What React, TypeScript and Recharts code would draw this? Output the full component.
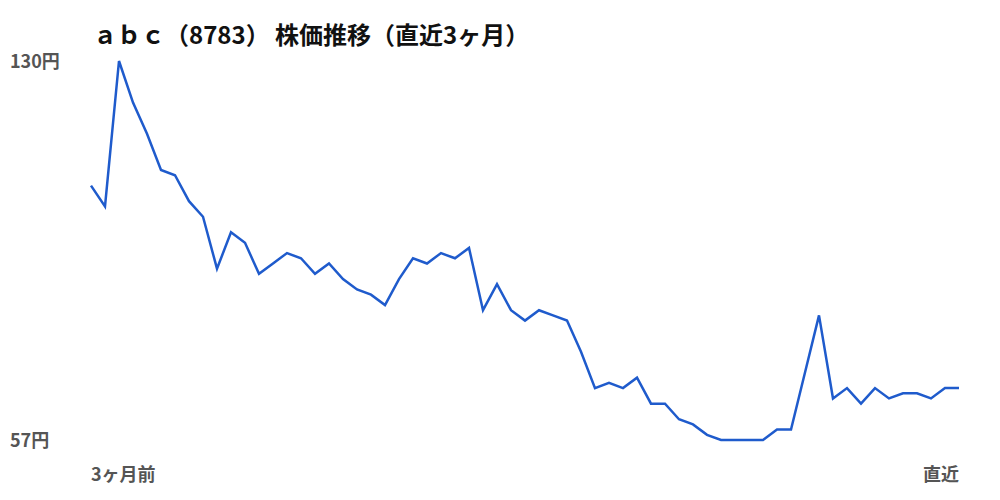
import * as React from "react";
import { Line, LineChart, XAxis, YAxis } from "recharts";

const TITLE = "ａｂｃ（8783） 株価推移（直近3ヶ月）";

// 終値（円）、3ヶ月前 → 直近
const prices = [
	106, 102, 130, 122, 116, 109, 108, 103, 100, 90, 97, 95, 89, 91, 93, 92,
	89, 91, 88, 86, 85, 83, 88, 92, 91, 93, 92, 94, 82, 87, 82, 80, 82, 81, 80,
	74, 67, 68, 67, 69, 64, 64, 61, 60, 58, 57, 57, 57, 57, 59, 59, 70, 81, 65,
	67, 64, 67, 65, 66, 66, 65, 67, 67,
];

const yTicks = [57, 130];
const xEdgeLabels = ["3ヶ月前", "直近"];

const data = prices.map((price, i) => ({ day: i, price }));
const firstDay = 0;
const lastDay = prices.length - 1;

const LABEL_COLOR = "#555555";
const LINE_COLOR = "#1f5bcc";
const FONT = '"Noto Sans CJK JP", "Noto Sans", sans-serif';

function YTick(props: any) {
	const { y, payload } = props;
	return (
		<text
			x={10}
			y={y}
			dy={7}
			textAnchor="start"
			fill={LABEL_COLOR}
			fontSize={18}
			fontWeight={700}
			fontFamily={FONT}
		>
			{`${payload.value}円`}
		</text>
	);
}

function XTick(props: any) {
	const { x, y, payload } = props;
	const isFirst = payload.value === firstDay;
	return (
		<text
			x={x}
			y={y}
			dy={33}
			textAnchor={isFirst ? "start" : "end"}
			fill={LABEL_COLOR}
			fontSize={18}
			fontWeight={700}
			fontFamily={FONT}
		>
			{isFirst ? xEdgeLabels[0] : xEdgeLabels[1]}
		</text>
	);
}

export default function App(): React.JSX.Element {
	return (
		<div
			style={{
				position: "absolute",
				left: 0,
				top: 0,
				width: 1000,
				height: 500,
				background: "#ffffff",
				fontFamily: FONT,
			}}
		>
			<div
				style={{
					position: "absolute",
					left: 93,
					top: 17,
					fontSize: 24,
					fontWeight: 700,
					color: "#111111",
					lineHeight: "34px",
					whiteSpace: "nowrap",
				}}
			>
				{TITLE}
			</div>
			<LineChart
				width={1000}
				height={500}
				data={data}
				margin={{ top: 61, right: 41, bottom: 0, left: 10 }}
			>
				<XAxis
					dataKey="day"
					type="number"
					domain={[firstDay, lastDay]}
					ticks={[firstDay, lastDay]}
					axisLine={false}
					tickLine={false}
					height={60}
					tick={<XTick />}
					interval={0}
				/>
				<YAxis
					domain={[57, 130]}
					ticks={yTicks}
					axisLine={false}
					tickLine={false}
					width={81}
					tick={<YTick />}
					interval={0}
				/>
				<Line
					type="linear"
					dataKey="price"
					stroke={LINE_COLOR}
					strokeWidth={2.5}
					dot={false}
					activeDot={false}
					isAnimationActive={false}
				/>
			</LineChart>
		</div>
	);
}
